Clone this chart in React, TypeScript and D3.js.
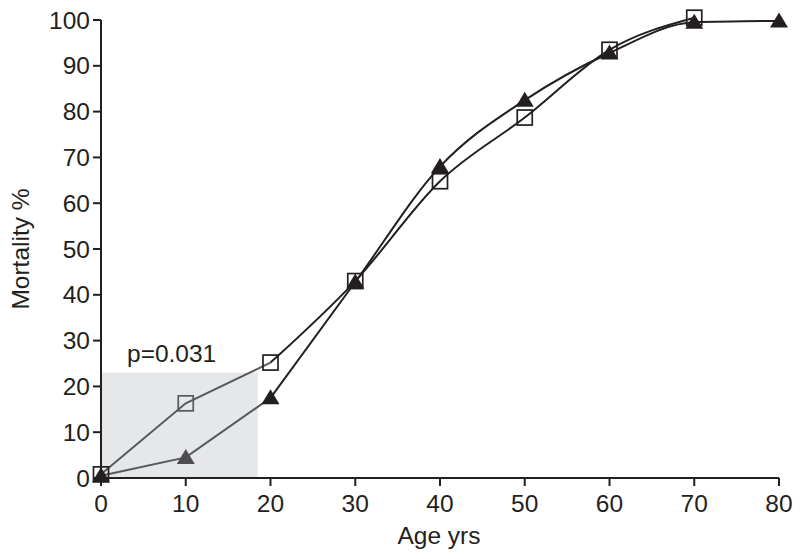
import React from "react";
import * as d3 from "d3";

const ages = [0, 10, 20, 30, 40, 50, 60, 70, 80];
const squareValues = [0.8, 16.3, 25.2, 43, 64.8, 78.7, 93.5, 100.5];
const triangleValues = [0.5, 4.5, 17.5, 42.8, 68, 82.5, 92.8, 99.5, 99.8];
const xTicks = [0, 10, 20, 30, 40, 50, 60, 70, 80];
const yTicks = [0, 10, 20, 30, 40, 50, 60, 70, 80, 90, 100];
const shadeX = [0, 18.5];
const shadeY = 23;
const pLabel = "p=0.031";

const W = 800, H = 559;
const FONT = "'Liberation Sans', Arial, Helvetica, sans-serif";
const INK = "#231f20";
const GRAY = "#58595b";
const FS = 24.5;

export default function App() {
  const x = d3.scaleLinear().domain([0, 80]).range([101, 779]);
  const y = d3.scaleLinear().domain([0, 100]).range([478, 20]);
  const line = d3
    .line<[number, number]>()
    .x((d) => x(d[0]))
    .y((d) => y(d[1]))
    .curve(d3.curveMonotoneX);
  const straight = d3
    .line<[number, number]>()
    .x((d) => x(d[0]))
    .y((d) => y(d[1]));

  const sq: [number, number][] = squareValues.map((v, i) => [ages[i], v]);
  const tr: [number, number][] = triangleValues.map((v, i) => [ages[i], v]);

  const tri = (cx: number, cy: number) =>
    `M${cx},${cy - 8.5}L${cx + 9},${cy + 6.5}L${cx - 9},${cy + 6.5}Z`;

  return (
    <svg
      width={W}
      height={H}
      style={{ position: "absolute", left: 0, top: 0, background: "#fff" }}
      fontFamily={FONT}
    >
      <rect
        x={x(shadeX[0])}
        y={y(shadeY)}
        width={x(shadeX[1]) - x(shadeX[0])}
        height={y(0) - y(shadeY)}
        fill="#e6e7e8"
      />
      <text x={127} y={362} fontSize={FS} fill={INK}>
        {pLabel}
      </text>

      {/* lines */}
      <path d={straight(sq.slice(0, 3)) || ""} fill="none" stroke={GRAY} strokeWidth={2} />
      <path d={line(sq.slice(2)) || ""} fill="none" stroke={INK} strokeWidth={2} />
      <path d={straight(tr.slice(0, 3)) || ""} fill="none" stroke={GRAY} strokeWidth={2} />
      <path d={line(tr.slice(2)) || ""} fill="none" stroke={INK} strokeWidth={2} />

      {/* axes */}
      <line x1={101} x2={101} y1={y(100)} y2={y(0)} stroke={INK} strokeWidth={2} />
      <line x1={101} x2={x(80)} y1={y(0)} y2={y(0)} stroke={INK} strokeWidth={2} />
      {yTicks.map((t) => (
        <g key={"y" + t}>
          <line x1={93} x2={101} y1={y(t)} y2={y(t)} stroke={INK} strokeWidth={2} />
          <text
            x={90}
            y={y(t)}
            textAnchor="end"
            dominantBaseline="central"
            fontSize={FS}
            fill={INK}
          >
            {t}
          </text>
        </g>
      ))}
      {xTicks.map((t) => (
        <g key={"x" + t}>
          <line x1={x(t)} x2={x(t)} y1={y(0)} y2={y(0) + 8} stroke={INK} strokeWidth={2} />
          <text x={x(t)} y={512} textAnchor="middle" fontSize={FS} fill={INK}>
            {t}
          </text>
        </g>
      ))}
      <text x={439} y={544} textAnchor="middle" fontSize={FS} fill={INK}>
        Age yrs
      </text>
      <text
        transform={`translate(29,249) rotate(-90)`}
        textAnchor="middle"
        fontSize={FS}
        fill={INK}
      >
        Mortality %
      </text>

      {/* markers */}
      {tr.map((d, i) => (
        <path
          key={"t" + i}
          d={tri(x(d[0]), y(d[1]))}
          fill={d[0] < 20 && d[0] > 0 ? "#4d4d4f" : INK}
        />
      ))}
      {sq.map((d, i) => (
        <rect
          key={"s" + i}
          x={x(d[0]) - 7.5}
          y={y(d[1]) - 7.5}
          width={15}
          height={15}
          fill="#fff"
          stroke={d[0] > 0 && d[0] < 20 ? GRAY : INK}
          strokeWidth={1.7}
          fillOpacity={0}
        />
      ))}
    </svg>
  );
}
